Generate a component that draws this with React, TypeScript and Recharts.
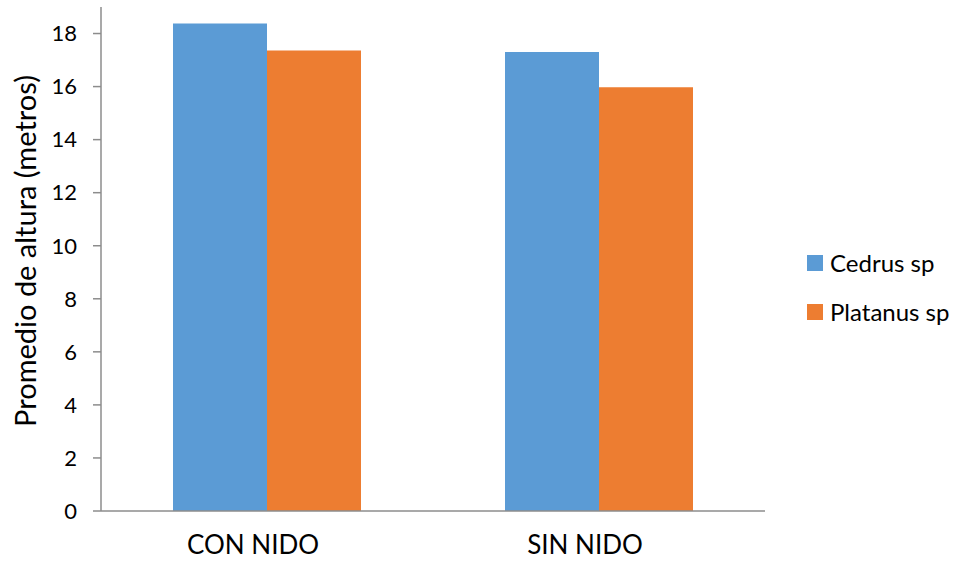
import React from 'react';
import { BarChart, Bar, XAxis, YAxis } from 'recharts';

const categories = ['CON NIDO', 'SIN NIDO'];
const cedrus = [18.38, 17.3];
const platanus = [17.36, 15.97];
const yTicks = [0, 2, 4, 6, 8, 10, 12, 14, 16, 18];

const SERIES = [
  { key: 'cedrus', name: 'Cedrus sp', color: '#5B9BD5' },
  { key: 'platanus', name: 'Platanus sp', color: '#ED7D31' },
];

const FONT = 'Lato, "Open Sans", sans-serif';
const AXIS_GRAY = '#8C8C8C';

const data = categories.map((cat, i) => ({ cat, cedrus: cedrus[i], platanus: platanus[i] }));

// legend sits to the right of the plot, outside the chart's layout
const LegendBox = () => (
  <div style={{ position: 'absolute', left: 807, top: 238, fontFamily: FONT, fontSize: 24, color: '#000' }}>
    {SERIES.map((s) => (
      <div key={s.key} style={{ display: 'flex', alignItems: 'center', height: 49 }}>
        <span style={{ width: 16, height: 16, background: s.color, display: 'inline-block', marginRight: 7 }} />
        <span>{s.name}</span>
      </div>
    ))}
  </div>
);

const YTitle = () => (
  <text
    x={24}
    y={251}
    transform="rotate(-90 24 251)"
    textAnchor="middle"
    dominantBaseline="central"
    fontFamily={FONT}
    fontSize={29}
    fill="#000"
  >
    Promedio de altura (metros)
  </text>
);

export default function App() {
  return (
    <div style={{ position: 'absolute', left: 0, top: 0, width: 953, height: 561, background: '#fff' }}>
      <BarChart
        width={953}
        height={561}
        data={data}
        margin={{ top: 7, right: 188, bottom: 0, left: 0 }}
        barGap={0}
      >
        <XAxis
          dataKey="cat"
          height={50}
          tickLine={false}
          axisLine={{ stroke: AXIS_GRAY, strokeWidth: 1.5 }}
          tick={{ fontFamily: FONT, fontSize: 26, fill: '#000', dx: -14 }}
          tickMargin={19}
        />
        <YAxis
          width={101}
          domain={[0, 19]}
          ticks={yTicks}
          interval={0}
          tickSize={8}
          tickMargin={16}
          tickLine={{ stroke: AXIS_GRAY, strokeWidth: 1.5 }}
          axisLine={{ stroke: AXIS_GRAY, strokeWidth: 1.5 }}
          tick={{ fontFamily: FONT, fontSize: 22, fill: '#000' }}
          label={<YTitle />}
        />
        {SERIES.map((s) => (
          <Bar key={s.key} dataKey={s.key} name={s.name} fill={s.color} barSize={94} isAnimationActive={false} />
        ))}
      </BarChart>
      <LegendBox />
    </div>
  );
}
